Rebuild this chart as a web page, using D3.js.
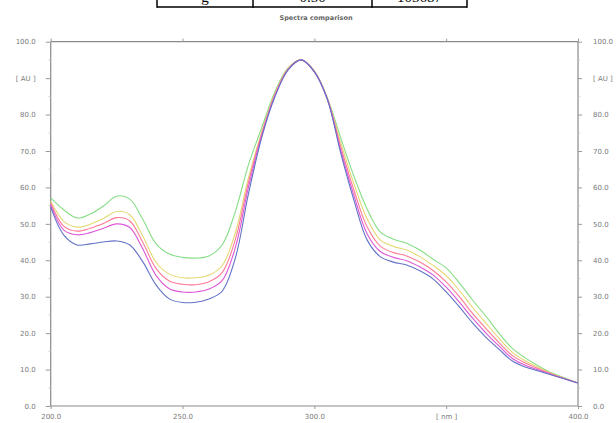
<!DOCTYPE html>
<html>
<head>
<meta charset="utf-8">
<script src="https://cdn.jsdelivr.net/npm/d3@7"></script>
<style>
  body { margin: 0; background: #fff; }
  svg { display: block; }
</style>
</head>
<body>
<div id="chart"></div>
<script>
// wavelengths (nm), 5 nm step
const wavelengths = d3.range(200, 401, 5);

// absorbance [AU] per sample
const greenValues = [57.1, 53.8, 51.6, 52.7, 54.9, 57.6, 56.8, 51.1, 44.5, 41.7, 40.8, 40.6, 41.2, 44.2, 53.3, 66.2, 76.3, 86.2, 92.8, 95.0, 92.0, 84.5, 73.6, 63.1, 54.1, 47.8, 45.8, 44.7, 42.8, 40.3, 37.9, 33.8, 29.1, 24.7, 20.0, 15.9, 13.2, 11.0, 9.1, 7.7, 6.3];
const yellowValues = [56.2, 50.7, 49.1, 49.9, 51.5, 53.4, 52.5, 46.5, 39.4, 36.2, 35.2, 35.2, 35.9, 38.5, 47.5, 62.6, 75.1, 85.7, 92.6, 95.0, 91.9, 84.3, 72.3, 61.0, 51.4, 45.6, 43.8, 42.8, 41.0, 38.6, 35.8, 31.7, 27.1, 22.8, 18.6, 14.8, 12.4, 10.6, 8.9, 7.6, 6.3];
const pinkValues = [55.7, 49.3, 48.0, 48.8, 50.1, 51.7, 50.8, 44.8, 37.7, 34.3, 33.4, 33.3, 34.1, 36.6, 45.6, 61.4, 74.7, 85.4, 92.5, 95.0, 91.8, 84.2, 71.2, 59.3, 49.2, 43.9, 42.1, 41.2, 39.5, 37.2, 34.1, 30.0, 25.4, 21.3, 17.4, 13.9, 11.8, 10.2, 8.8, 7.5, 6.3];
const magentaValues = [55.2, 48.3, 47.0, 47.6, 48.8, 50.0, 49.0, 43.0, 35.8, 32.2, 31.3, 31.3, 32.1, 34.4, 43.4, 60.0, 74.2, 85.1, 92.3, 95.0, 91.8, 84.1, 70.2, 57.8, 47.3, 42.4, 40.8, 39.9, 38.2, 36.0, 32.6, 28.5, 24.1, 20.1, 16.5, 13.1, 11.2, 9.9, 8.6, 7.5, 6.3];
const blueValues = [54.6, 46.9, 44.2, 44.5, 45.0, 45.3, 44.2, 39.5, 33.2, 29.4, 28.4, 28.5, 29.4, 31.5, 40.5, 58.2, 73.6, 84.8, 92.2, 95.0, 91.7, 84.0, 69.4, 56.5, 45.6, 41.0, 39.5, 38.7, 37.1, 34.9, 31.3, 27.2, 22.8, 18.9, 15.6, 12.4, 10.7, 9.6, 8.5, 7.4, 6.3];

const seriesValues = [greenValues, yellowValues, pinkValues, magentaValues, blueValues];
const seriesColors = ['#86de86', '#e4d872', '#ff7a96', '#dc58d6', '#6272c6'];

// axis ticks
const yTicks = [0, 10, 20, 30, 40, 50, 60, 70, 80, 90, 100];
const yTickLabels = ['0.0', '10.0', '20.0', '30.0', '40.0', '50.0', '60.0', '70.0', '80.0', '[ AU ]', '100.0'];
const xTicks = [200, 250, 300, 350, 400];
const xTickLabels = ['200.0', '250.0', '300.0', '[ nm ]', '400.0'];

// table row cut off at the top of the picture
const tableCells = ['g', '0.50', '105687'];

const width = 616;
const height = 423;
const plot = { left: 50.7, right: 578, top: 41.7, bottom: 406 };

const svg = d3.select('#chart').append('svg').attr('width', width).attr('height', height);

// table (only its bottom edge shows)
const cellEdges = [157, 253, 372, 467];
const table = svg.append('g');
table.append('line')
  .attr('x1', cellEdges[0]).attr('x2', cellEdges[3])
  .attr('y1', 7).attr('y2', 7)
  .attr('stroke', '#000').attr('stroke-width', 1.5);
cellEdges.forEach((x) => {
  table.append('line')
    .attr('x1', x).attr('x2', x).attr('y1', -2).attr('y2', 7.75)
    .attr('stroke', '#000').attr('stroke-width', 1.5);
});
tableCells.forEach((t, i) => {
  table.append('text')
    .attr('x', (cellEdges[i] + cellEdges[i + 1]) / 2)
    .attr('y', 2)
    .attr('text-anchor', 'middle')
    .attr('font-family', 'Liberation Serif, serif')
    .attr('font-size', 15)
    .attr('fill', '#000')
    .text(t);
});

// title
svg.append('text')
  .attr('x', 316).attr('y', 20)
  .attr('text-anchor', 'middle')
  .attr('font-family', 'DejaVu Sans, sans-serif')
  .attr('font-size', 6.5)
  .attr('font-weight', 'bold')
  .attr('fill', '#666')
  .text('Spectra comparison');

// scales
const xScale = d3.scaleLinear().domain([200, 400]).range([plot.left, plot.right]);
const yScale = d3.scaleLinear().domain([0, 100]).range([plot.bottom, plot.top]);

const labelFont = (sel) => sel
  .attr('font-family', 'DejaVu Sans, sans-serif')
  .attr('font-size', 7)
  .attr('fill', '#7a7a7a');

// frame
const frame = svg.append('g').attr('stroke', '#8a8a8a').attr('stroke-width', 1.2).attr('fill', 'none');
frame.append('line').attr('x1', plot.left).attr('x2', plot.left).attr('y1', plot.top).attr('y2', plot.bottom);
frame.append('line').attr('x1', plot.right).attr('x2', plot.right).attr('y1', plot.top).attr('y2', plot.bottom);
frame.append('line').attr('x1', plot.left).attr('x2', plot.right).attr('y1', plot.top).attr('y2', plot.top);
frame.append('line').attr('x1', plot.left).attr('x2', plot.right).attr('y1', plot.bottom).attr('y2', plot.bottom);

// axes
const yAxisLeft = d3.axisLeft(yScale).tickValues(yTicks).tickSize(5).tickPadding(10)
  .tickFormat((d, i) => yTickLabels[i]);
const yAxisRight = d3.axisRight(yScale).tickValues(yTicks).tickSize(4).tickPadding(11)
  .tickFormat((d, i) => yTickLabels[i]);
const xAxisBottom = d3.axisBottom(xScale).tickValues(xTicks).tickSize(3).tickPadding(5)
  .tickFormat((d, i) => xTickLabels[i]);
const xAxisTop = d3.axisTop(xScale).tickValues(xTicks).tickSize(3).tickFormat('');

const styleAxis = (g) => {
  g.select('.domain').remove();
  g.selectAll('.tick line').attr('stroke', '#9a9a9a');
  g.selectAll('.tick text').call(labelFont);
};

svg.append('g').attr('transform', `translate(${plot.left},0)`).call(yAxisLeft).call(styleAxis);
svg.append('g').attr('transform', `translate(${plot.right},0)`).call(yAxisRight).call(styleAxis);
svg.append('g').attr('transform', `translate(0,${plot.bottom})`).call(xAxisBottom).call(styleAxis);
svg.append('g').attr('transform', `translate(0,${plot.top})`).call(xAxisTop).call(styleAxis);

// minor ticks
const minorY = d3.range(5, 100, 10);
svg.append('g').selectAll('line').data(minorY).join('line')
  .attr('x1', plot.left - 2).attr('x2', plot.left)
  .attr('y1', (d) => yScale(d)).attr('y2', (d) => yScale(d))
  .attr('stroke', '#c4c4c4');
svg.append('g').selectAll('line').data(minorY).join('line')
  .attr('x1', plot.right).attr('x2', plot.right + 2)
  .attr('y1', (d) => yScale(d)).attr('y2', (d) => yScale(d))
  .attr('stroke', '#c4c4c4');

// spectra
const lineGenerator = d3.line()
  .x((d, i) => xScale(wavelengths[i]))
  .y((d) => yScale(d))
  .curve(d3.curveCatmullRom);

svg.append('g').selectAll('path').data(seriesValues).join('path')
  .attr('d', lineGenerator)
  .attr('fill', 'none')
  .attr('stroke', (d, i) => seriesColors[i])
  .attr('stroke-width', 1.1);
</script>
</body>
</html>
